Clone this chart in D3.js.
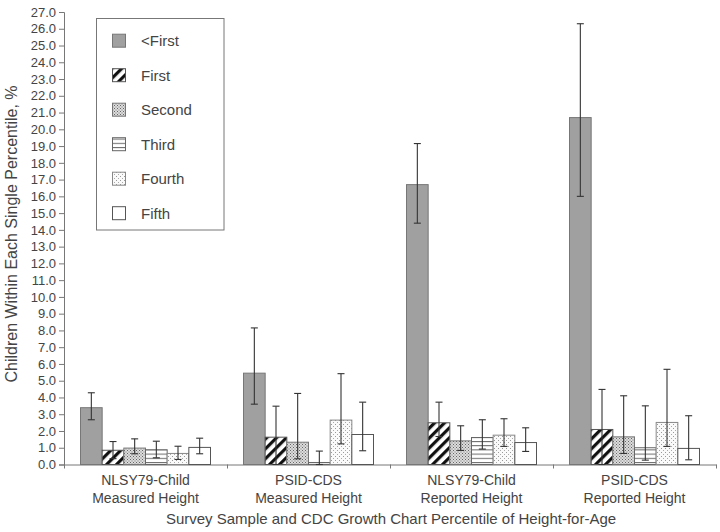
<!DOCTYPE html>
<html>
<head>
<meta charset="utf-8">
<script src="https://cdn.jsdelivr.net/npm/d3@7/dist/d3.min.js"></script>
<style>
  html, body { margin: 0; padding: 0; background: #fff; }
  svg { display: block; font-family: "Liberation Sans", Arial, sans-serif; }
</style>
</head>
<body>
<svg id="chart" width="720" height="532"></svg>
<script>
// ---- data ----
const categories = [
  ["NLSY79-Child", "Measured Height"],
  ["PSID-CDS", "Measured Height"],
  ["NLSY79-Child", "Reported Height"],
  ["PSID-CDS", "Reported Height"]
];
const seriesNames = ["<First", "First", "Second", "Third", "Fourth", "Fifth"];
// values[group][series]
const values = [
  [3.39, 0.85, 0.98, 0.88, 0.66, 1.02],
  [5.45, 1.63, 1.33, 0.12, 2.65, 1.79],
  [16.7, 2.49, 1.41, 1.61, 1.75, 1.31],
  [20.7, 2.09, 1.65, 1.00, 2.51, 0.96]
];
const upper = [
  [4.28, 1.37, 1.53, 1.39, 1.09, 1.57],
  [8.15, 3.48, 4.24, 0.80, 5.42, 3.72],
  [19.15, 3.72, 2.31, 2.67, 2.73, 2.19],
  [26.3, 4.48, 4.10, 3.50, 5.68, 2.91]
];
const lower = [
  [2.67, 0.35, 0.64, 0.40, 0.30, 0.64],
  [3.60, 0.00, 0.34, 0.00, 1.23, 0.82],
  [14.4, 1.67, 0.84, 0.92, 1.08, 0.78],
  [16.0, 0.00, 0.66, 0.26, 1.08, 0.28]
];
const yTicks = d3.range(0, 28, 1);
const yTitle = "Children Within Each Single Percentile, %";
const xTitle = "Survey Sample and CDC Growth Chart Percentile of Height-for-Age";

// ---- layout ----
const svg = d3.select("#chart");
const mLeft = 64, mRight = 716, mTop = 12, mBottom = 464.5;

const x0 = d3.scaleBand().domain(d3.range(categories.length)).range([mLeft, mRight]).padding(0);
const x1 = d3.scaleBand().domain(d3.range(seriesNames.length))
  .range([16.5, x0.bandwidth() - 16.5]).padding(0);
const y = d3.scaleLinear().domain([0, 27]).range([mBottom, mTop]);

// ---- patterns ----
const defs = svg.append("defs");
const pHatch = defs.append("pattern").attr("id", "hatch").attr("patternUnits", "userSpaceOnUse")
  .attr("width", 7).attr("height", 7).attr("patternTransform", "rotate(45)");
pHatch.append("rect").attr("width", 7).attr("height", 7).attr("fill", "#fff");
pHatch.append("rect").attr("width", 3.2).attr("height", 7).attr("fill", "#111");
const pSpeck = defs.append("pattern").attr("id", "speck").attr("patternUnits", "userSpaceOnUse")
  .attr("width", 3).attr("height", 3);
pSpeck.append("rect").attr("width", 3).attr("height", 3).attr("fill", "#dcdcdc");
pSpeck.append("rect").attr("x", 0).attr("y", 0).attr("width", 1).attr("height", 1).attr("fill", "#666");
pSpeck.append("rect").attr("x", 1.5).attr("y", 1.5).attr("width", 1).attr("height", 1).attr("fill", "#777");
const pHoriz = defs.append("pattern").attr("id", "horiz").attr("patternUnits", "userSpaceOnUse")
  .attr("width", 4).attr("height", 4.2);
pHoriz.append("rect").attr("width", 4).attr("height", 4.2).attr("fill", "#fff");
pHoriz.append("rect").attr("y", 0).attr("width", 4).attr("height", 1).attr("fill", "#666");
const pDots = defs.append("pattern").attr("id", "dots").attr("patternUnits", "userSpaceOnUse")
  .attr("width", 4).attr("height", 4);
pDots.append("rect").attr("width", 4).attr("height", 4).attr("fill", "#fafafa");
pDots.append("rect").attr("x", 0).attr("y", 0).attr("width", 1).attr("height", 1).attr("fill", "#999");
pDots.append("rect").attr("x", 2).attr("y", 2).attr("width", 1).attr("height", 1).attr("fill", "#aaa");

const fills = ["#a0a0a0", "url(#hatch)", "url(#speck)", "url(#horiz)", "url(#dots)", "#ffffff"];
const strokes = ["#777", "#555", "#777", "#666", "#888", "#555"];

// ---- axes ----
const yAxis = d3.axisLeft(y).tickValues(yTicks).tickFormat(d3.format(".1f")).tickSize(5).tickPadding(3);
const gy = svg.append("g").attr("transform", `translate(${mLeft},0)`).call(yAxis);
gy.select(".domain").attr("stroke", "#777");
gy.selectAll(".tick line").attr("stroke", "#777");
gy.selectAll(".tick text").attr("fill", "#444").style("font-size", "13px");

const xAxis = d3.axisBottom(d3.scaleLinear().domain([0, categories.length]).range([mLeft, mRight]))
  .tickValues(d3.range(0, categories.length + 1)).tickFormat("").tickSize(4).tickSizeOuter(0);
const gx = svg.append("g").attr("transform", `translate(0,${mBottom})`).call(xAxis);
gx.select(".domain").attr("stroke", "#777");
gx.selectAll(".tick line").attr("stroke", "#777");

// ---- bars ----
const groups = svg.append("g").selectAll("g").data(values).join("g")
  .attr("transform", (d, i) => `translate(${x0(i)},0)`);

groups.selectAll("rect").data(d => d).join("rect")
  .attr("x", (d, j) => x1(j))
  .attr("y", d => y(d))
  .attr("width", x1.bandwidth())
  .attr("height", d => y(0) - y(d))
  .attr("fill", (d, j) => fills[j])
  .attr("stroke", (d, j) => strokes[j])
  .attr("stroke-width", 1);

// ---- error bars ----
const capW = 3.5;
groups.each(function(d, gi) {
  const g = d3.select(this);
  d.forEach((v, j) => {
    const cx = x1(j) + x1.bandwidth() / 2;
    const yh = y(upper[gi][j]), yl = y(lower[gi][j]);
    const eg = g.append("g").attr("stroke", "#333").attr("stroke-width", 1.1);
    eg.append("line").attr("x1", cx).attr("x2", cx).attr("y1", yh).attr("y2", yl);
    eg.append("line").attr("x1", cx - capW).attr("x2", cx + capW).attr("y1", yh).attr("y2", yh);
    eg.append("line").attr("x1", cx - capW).attr("x2", cx + capW).attr("y1", yl).attr("y2", yl);
  });
});

// ---- category labels ----
categories.forEach((lines, i) => {
  const t = svg.append("text").attr("text-anchor", "middle")
    .attr("fill", "#444").style("font-size", "14px");
  lines.forEach((ln, k) => {
    t.append("tspan").attr("x", x0(i) + x0.bandwidth() / 2).attr("y", 485 + k * 18).text(ln);
  });
});

// ---- titles ----
svg.append("text").attr("x", 391).attr("y", 524).attr("text-anchor", "middle")
  .attr("fill", "#444").style("font-size", "15px").text(xTitle);
svg.append("text").attr("transform", "translate(17,234) rotate(-90)").attr("text-anchor", "middle")
  .attr("fill", "#444").style("font-size", "16px").text(yTitle);

// ---- legend ----
const lg = svg.append("g");
lg.append("rect").attr("x", 96.5).attr("y", 18.5).attr("width", 127.5).attr("height", 211.5)
  .attr("fill", "#fff").attr("stroke", "#777").attr("stroke-width", 1);
seriesNames.forEach((name, j) => {
  const cy = 40.7 + j * 34.5;
  lg.append("rect").attr("x", 112.5).attr("y", cy - 6.5).attr("width", 13).attr("height", 13)
    .attr("fill", fills[j]).attr("stroke", strokes[j]).attr("stroke-width", 1);
  lg.append("text").attr("x", 141).attr("y", cy + 5.5).attr("fill", "#444")
    .style("font-size", "15px").text(name);
});
</script>
</body>
</html>
